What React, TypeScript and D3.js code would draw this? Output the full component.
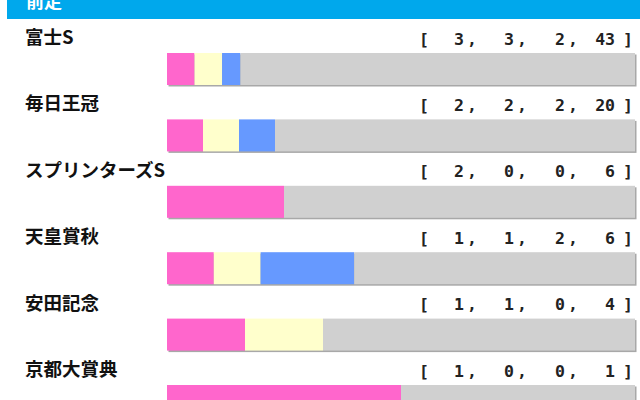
import { scaleBand, scaleLinear } from "d3";

// previous-race results: [1st, 2nd, 3rd, out of top 3]
const races = ["富士S", "毎日王冠", "スプリンターズS", "天皇賞秋", "安田記念", "京都大賞典"];
const firsts = [3, 2, 2, 1, 1, 1];
const seconds = [3, 2, 0, 1, 1, 0];
const thirds = [2, 2, 0, 2, 0, 0];
const others = [43, 20, 6, 6, 4, 1];

const segColors = ["#ff66cc", "#ffffcc", "#6699ff", "#d0d0d0"];
const headerTitle = "前走";

const width = 640;
const height = 400;
const barLeft = 167;
const barRight = 635;
const barH = 32;

// column right edges for the "[ a, b, c, d ]" numbers
const numCols = [464, 514, 565, 615];

const App: React.FC = () => {
    const scaleY = scaleBand()
        .domain(races)
        .range([20, 20 + races.length * 66.4]);

    return (
        <div style={{ position: "absolute", left: 0, top: 0 }}>
            <svg width={width} height={height} style={{ display: "block", background: "#fff" }}>
                {/* header */}
                <rect x={7} y={0} width={width - 7} height={19} fill="#00a8ec" />
                <text x={26} y={8} fill="#fff" fontSize={18} fontWeight="bold"
                    fontFamily="'Noto Sans CJK JP', sans-serif">{headerTitle}</text>

                {races.map((race, i) => {
                    const top = scaleY(race) ?? 0;
                    const vals = [firsts[i], seconds[i], thirds[i], others[i]];
                    const total = vals.reduce((a, b) => a + b, 0);
                    const scaleX = scaleLinear().domain([0, total]).range([barLeft, barRight]);
                    let acc = 0;
                    const segs = vals.map((v, k) => {
                        const x0 = scaleX(acc);
                        acc += v;
                        return { x: x0, w: scaleX(acc) - x0, color: segColors[k], k };
                    });
                    const barY = top + 33;
                    return (
                        <g key={race}>
                            <text x={25} y={top + 24} fontSize={18.5} fontWeight="bold" fill="#111"
                                fontFamily="'Noto Sans CJK JP', sans-serif">{race}</text>
                            <g fontFamily="'DejaVu Sans Mono', monospace" fontWeight="bold" fontSize={16.5} fill="#222">
                                <text x={419} y={top + 24.5}>[</text>
                                {vals.map((v, k) => (
                                    <text key={k} x={numCols[k]} y={top + 24.5} textAnchor="end">{v}</text>
                                ))}
                                {numCols.slice(0, 3).map((c, k) => (
                                    <text key={`c${k}`} x={c + 3} y={top + 24.5}>,</text>
                                ))}
                                <text x={623} y={top + 24.5}>]</text>
                            </g>
                            <rect x={barLeft + 1.5} y={barY + 1.5} width={barRight - barLeft} height={barH} fill="#a8a8a8" />
                            {segs.filter(s => s.w > 0).map(s => (
                                <rect key={s.k} x={s.x} y={barY} width={s.w} height={barH} fill={s.color} />
                            ))}
                        </g>
                    );
                })}
            </svg>
        </div>
    );
};

export default App;
